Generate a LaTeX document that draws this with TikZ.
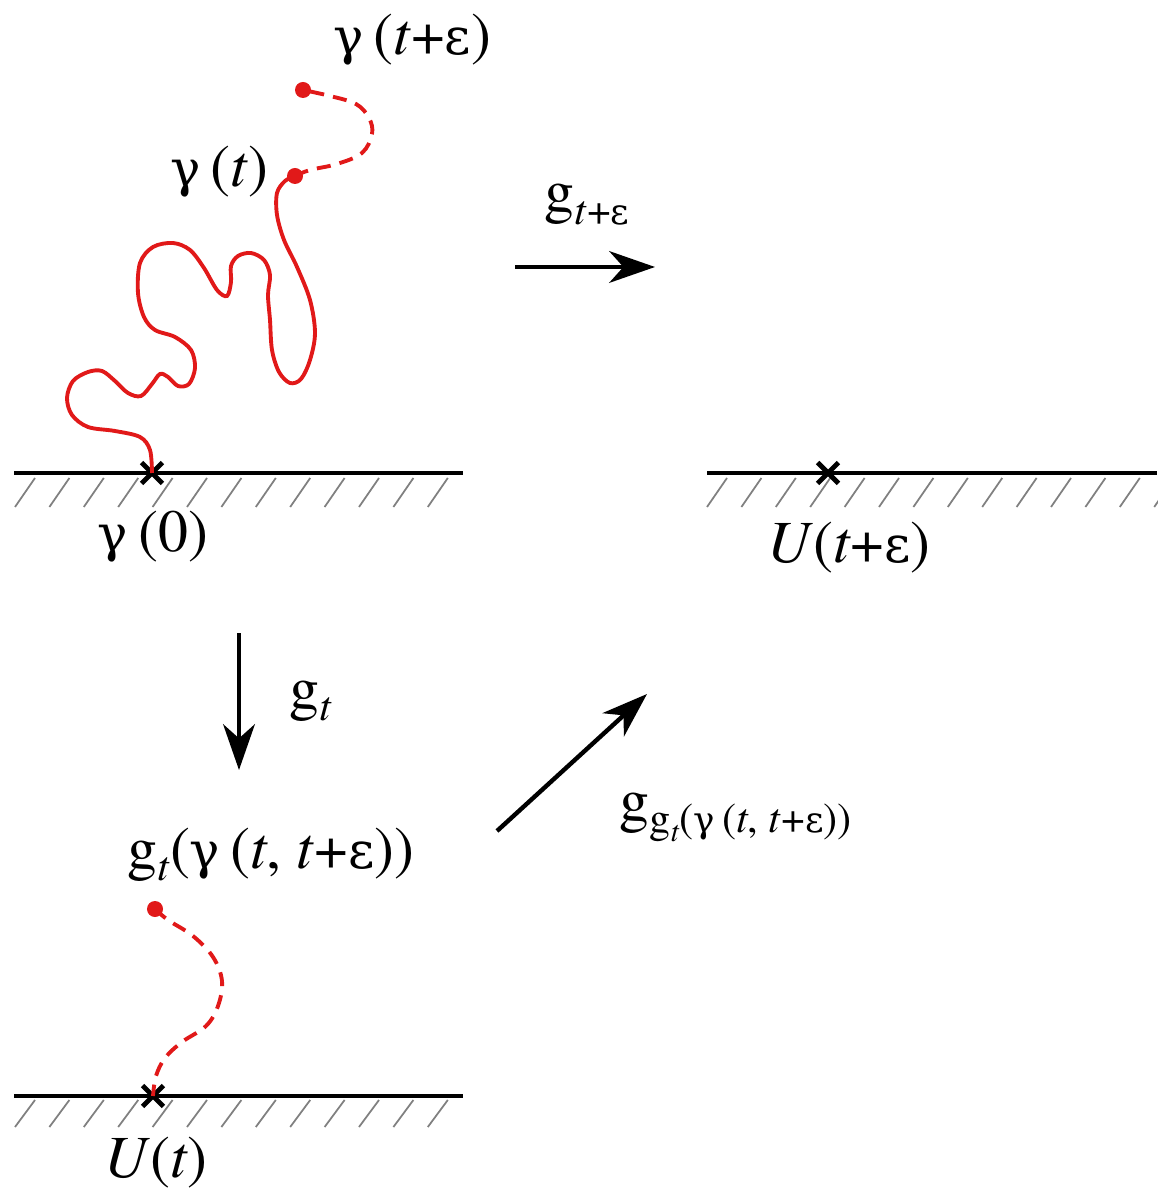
\documentclass[tikz,border=0pt]{standalone}
\usepackage{fontspec}
\setmainfont{TeX Gyre Termes}
\newfontfamily\grk{DejaVu Serif}[Scale=0.85]
\usetikzlibrary{arrows.meta,shapes.misc}
\definecolor{curvered}{RGB}{225,25,25}
\newcommand\lowsub[1]{\raisebox{-3.5pt}{\fontsize{12}{14}\selectfont#1}}
\newcommand\tinysub[1]{\raisebox{-2.5pt}{\fontsize{8.5}{10}\selectfont#1}}
\newcommand\gam{{\grk γ}}
\newcommand\eps{{\grk ε}}
\tikzset{
  ground/.style={line width=1.25pt},
  hatch/.style={gray,line width=0.5pt},
  crossmark/.style={cross out,draw,line width=1.4pt,minimum size=0.16cm,inner sep=0pt},
  reddot/.style={circle,fill=curvered,minimum size=0.16cm,inner sep=0pt},
  redpath/.style={curvered,line width=1.1pt},
  reddash/.style={redpath,dash pattern=on 4pt off 2.6pt},
  maparrow/.style={line width=1.25pt,-{Stealth[length=13pt,width=9pt,inset=4pt]}},
  lbl/.style={font=\fontsize{17}{20}\selectfont,inner sep=0pt,anchor=base}
}
\begin{document}
\begin{tikzpicture}[x=0.01cm,y=-0.01cm]
  \useasboundingbox (0,0) rectangle (1157,1198);
  % ground lines
  \draw[ground](14,473)--(463,473);
  \draw[ground](707,473)--(1157,473);
  \draw[ground](14,1096)--(463,1096);
  \foreach \i in {0,...,12}{
    \draw[hatch]({15+34.4*\i},507)--({35+34.4*\i},478);
    \draw[hatch]({15+34.4*\i},1127)--({35+34.4*\i},1100);}
  \foreach \i in {0,...,13}
    \draw[hatch]({707+34.4*\i},507)--({727+34.4*\i},478);
  % marks and end points
  \node[crossmark](O) at (152,473){};
  \node[crossmark](W) at (828,473){};
  \node[crossmark](B) at (153,1096){};
  \node[reddot](Gt) at (295,176){};
  \node[reddot](Ge) at (303,90){};
  \node[reddot](Gb) at (155,909){};
  % curves
  \draw[redpath] plot[smooth,tension=0.55] coordinates {(152,473) (150,450) (140,437) (115,431)
    (88,427) (72,415) (67,398) (73,381) (88,372) (102,371) (115,381) (128,393) (141,396)
    (152,384) (160,374) (168,377) (178,386) (189,384) (195,368) (191,350) (175,337) (155,330)
    (144,317) (138,293) (140,263) (153,247) (173,243) (190,250) (204,268) (217,290) (227,296)
    (231,282) (231,266) (238,256) (251,253) (264,260) (270,275) (268,295) (270,320) (272,350)
    (279,372) (290,383) (301,379) (310,360) (315,333) (310,300) (297,267) (284,240) (277,215)
    (277,193) (285,181) (295,176)};
  \draw[reddash] plot[smooth,tension=0.6] coordinates {(295,176) (310,170) (337,164) (362,153)
    (372,134) (369,118) (356,104) (330,96) (303,90)};
  \draw[reddash] plot[smooth,tension=0.6] coordinates {(155,909) (168,920) (193,936) (213,957)
    (222,981) (218,1006) (206,1026) (182,1042) (165,1058) (156,1076) (153,1096)};
  % maps
  \coordinate(H1) at (515,267); \coordinate(H2) at (655,267);
  \coordinate(V1) at (239,633); \coordinate(V2) at (239,770);
  \coordinate(D1) at (497,831); \coordinate(D2) at (647,694);
  \draw[maparrow](H1)--(H2);
  \draw[maparrow](V1)--(V2);
  \draw[maparrow](D1)--(D2);
  % labels
  \node[lbl](le) at (412,55){\gam\,(\textit{t}+\eps)};
  \node[lbl](lt) at (219,187){\gam\,(\textit{t})};
  \node[lbl](l0) at (153,552){\gam\,(0)};
  \node[lbl](lU) at (849,563){\textit{U}(\textit{t}+\eps)};
  \node[lbl](lu) at (156,1177){\textit{U}(\textit{t})};
  \node[lbl](lh) at (587,212){g\lowsub{\textit{t}+\eps}};
  \node[lbl](lv) at (311,708){g\lowsub{\textit{t}}};
  \node[lbl](lg) at (271,868){g\lowsub{\textit{t}}(\gam\,(\textit{t}, \textit{t}+\eps))};
  \node[lbl,anchor=base west](ld) at (619,820){g\lowsub{g\tinysub{\textit{t}}(\gam\,(\textit{t}, \textit{t}+\eps))}};
\end{tikzpicture}
\end{document}
